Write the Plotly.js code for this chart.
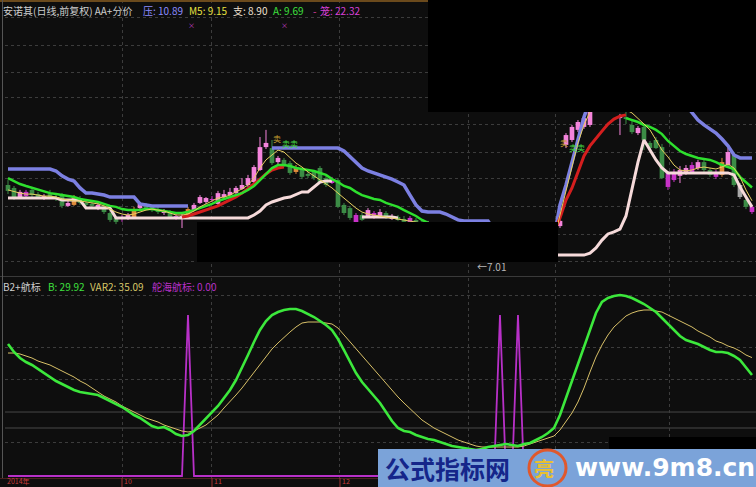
<!DOCTYPE html>
<html><head><meta charset="utf-8">
<script src="https://cdn.plot.ly/plotly-3.0.1.min.js"></script>
<style>html,body{margin:0;padding:0;background:#0e0e0e;}#chart{width:756px;height:487px;}</style>
</head><body><div id="chart"></div>
<script>
// ---------- price panel (candles) ----------
const open = [
 9.79,9.67,9.30,9.34,9.59,9.42,9.26,9.42,9.30,9.38,
 8.94,8.98,9.26,9.06,8.94,8.98,8.90,8.65,8.29,8.49,
 8.41,8.45,8.85,8.98,8.90,8.81,8.65,8.69,8.41,8.45,
 8.49,8.77,9.06,9.10,9.18,9.02,9.30,9.38,9.46,9.63,
 9.79,9.91,10.40,11.33,11.29,10.72,10.81,10.68,10.52,10.40,
 10.24,10.32,10.48,10.07,9.87,9.99,8.98,8.85,8.25,8.57,
 8.49,8.45,8.53,8.65,8.41,8.49,8.41,8.25,8.37,8.29,
 8.16,8.12,7.96,7.84,7.72,7.64,7.55,7.43,7.35,7.27,
 7.19,7.15,7.07,7.05,7.03,7.05,7.03,7.07,7.15,7.23,
 7.35,7.55,8.12,11.42,11.62,12.03,12.15,12.23,13.04,13.33,
 13.53,13.25,12.51,12.55,12.23,11.90,12.15,11.50,11.62,11.33,
 9.71,9.99,10.16,10.28,10.28,10.48,10.72,10.40,10.12,10.20,
 10.60,11.01,9.79,9.18,8.69];
const close = [
 9.55,9.26,9.51,9.51,9.38,9.30,9.34,9.30,9.26,8.94,
 9.06,9.30,9.06,8.98,9.02,8.85,8.69,8.37,8.45,8.41,
 8.57,8.81,9.02,8.85,8.77,8.69,8.73,8.49,8.53,8.53,
 8.81,8.98,9.30,9.26,9.22,9.46,9.42,9.51,9.67,9.79,
 10.07,10.52,11.33,11.50,10.68,10.89,10.60,10.28,10.32,10.12,
 10.16,10.07,9.91,9.79,10.03,8.90,8.65,8.45,8.57,8.37,
 8.77,8.65,8.69,8.45,8.53,8.37,8.29,8.45,8.25,8.20,
 8.25,7.96,7.84,7.72,7.64,7.55,7.43,7.35,7.27,7.19,
 7.15,7.07,7.05,7.03,7.07,7.03,7.07,7.15,7.23,7.35,
 7.55,7.88,8.33,11.82,12.15,12.35,12.51,13.04,13.45,13.65,
 13.25,12.92,12.59,12.47,11.94,12.11,11.62,11.29,11.29,10.07,
 10.28,10.32,10.40,10.48,10.60,10.72,10.40,10.20,10.32,10.72,
 11.13,9.79,9.30,8.90,8.90];
const high = [
 9.99,9.75,9.59,9.59,9.67,9.51,9.42,9.59,9.38,9.46,
 9.14,9.38,9.34,9.18,9.10,9.06,8.98,8.77,8.53,8.57,
 8.65,8.90,9.10,9.06,8.98,8.90,8.81,8.77,8.61,8.65,
 8.90,9.06,9.38,9.30,9.34,9.55,9.59,9.67,9.75,10.07,
 10.20,10.60,11.74,12.03,11.62,10.97,10.89,10.77,10.60,10.48,
 10.32,10.40,10.56,10.16,10.12,10.07,9.06,8.94,8.65,8.65,
 8.85,8.73,8.81,8.73,8.61,8.57,8.53,8.53,8.45,8.37,
 8.33,8.16,8.00,7.88,7.76,7.68,7.59,7.47,7.39,7.31,
 7.23,7.19,7.11,7.08,7.11,7.08,7.11,7.19,7.27,7.39,
 7.59,7.92,8.41,11.90,12.23,12.43,12.59,13.25,13.65,13.85,
 13.73,13.37,12.68,12.76,12.39,12.19,12.27,11.58,11.74,11.46,
 10.36,10.44,10.56,10.60,10.72,10.81,10.89,10.48,10.40,10.89,
 11.29,11.13,9.87,9.26,8.98];
const low = [
 9.42,9.18,9.22,9.26,9.30,9.22,9.18,9.22,9.14,8.85,
 8.90,8.94,8.98,8.85,8.85,8.77,8.61,8.29,8.20,8.29,
 8.37,8.41,8.81,8.77,8.69,8.61,8.57,8.45,8.37,8.04,
 8.45,8.73,9.02,9.02,9.10,8.98,9.26,9.34,9.42,9.59,
 9.71,9.87,10.36,11.25,10.60,10.64,10.52,10.20,10.24,10.03,
 10.07,9.99,9.87,9.71,9.83,8.85,8.57,8.37,8.20,8.33,
 8.45,8.41,8.49,8.41,8.37,8.33,8.25,8.20,8.20,8.12,
 8.08,7.92,7.80,7.68,7.59,7.51,7.39,7.31,7.23,7.15,
 7.11,7.03,7.02,7.01,7.02,7.02,7.02,7.03,7.11,7.19,
 7.31,7.51,8.04,11.29,11.54,11.94,12.07,12.15,12.92,13.25,
 13.12,12.84,11.82,12.27,11.86,11.82,11.21,11.21,11.25,10.03,
 9.59,9.91,9.87,10.20,10.24,10.40,10.32,10.12,10.03,10.12,
 10.52,9.71,9.22,8.81,8.61];
// candle colour class: p pink, g green, m magenta, o orange, s grey
const candleClass = (
 "ggpmggpggg" + "pogggpgggm" + "popgggpgmp" + "opppmppppp" +
 "ppppgpggog" + "ggggmgggmg" + "pmpgpggmgg" + "pggggggggg" +
 "ggggpgpppp" + "pppppppppp" + "ggpggpgggg" + "mmppmpggmo" + "pgsgm").split("");

// ---------- price panel lines ----------
const pressLine = [
 10.44,10.44,10.44,10.44,10.44,10.44,10.44,10.44,10.36,10.16,
 10.03,9.95,9.67,9.46,9.46,9.42,9.38,9.30,9.30,9.30,
 9.30,9.30,9.02,8.98,8.94,8.94,8.94,8.94,8.94,8.94,
 8.94,null,null,null,null,null,null,null,null,null,
 null,null,null,null,11.29,11.29,11.29,11.29,11.29,11.29,
 11.29,11.29,11.29,11.29,11.29,11.29,11.17,10.93,10.68,10.48,
 10.36,10.28,10.20,10.12,10.03,9.91,9.79,9.38,8.98,8.73,
 8.69,8.69,8.69,8.61,8.49,8.37,8.33,8.33,8.33,8.33,
 8.33,7.96,7.55,7.55,7.55,7.55,7.55,7.55,7.55,7.55,
 7.55,7.64,8.98,9.79,10.68,11.62,12.55,13.25,13.45,13.45,
 13.45,13.45,13.45,13.45,13.45,13.45,13.45,13.45,13.45,13.45,
 13.45,13.45,13.45,13.04,12.76,12.43,12.23,12.07,11.90,11.66,
 11.38,11.01,10.89,10.89,10.89];
const supportLine = [
 9.26,9.26,9.26,9.26,9.26,9.26,9.26,9.26,9.26,9.18,
 9.18,9.18,9.18,8.85,8.85,8.85,8.85,8.85,8.45,8.45,
 8.45,8.45,8.45,8.45,8.45,8.45,8.45,8.45,8.45,8.45,
 8.45,8.45,8.45,8.45,8.45,8.45,8.45,8.45,8.45,8.45,
 8.45,8.57,8.73,8.98,9.10,9.18,9.26,9.30,9.42,9.51,
 9.51,9.71,9.91,9.95,9.95,null,null,null,null,8.49,
 8.49,8.49,8.49,8.49,8.49,8.45,null,null,null,null,
 null,6.94,6.94,6.94,6.94,6.94,6.94,6.94,6.94,6.94,
 6.94,6.94,6.94,6.94,6.94,6.94,6.94,6.94,6.94,6.94,
 6.94,6.94,6.94,6.94,6.94,6.94,6.94,7.02,7.23,7.55,
 7.80,7.88,8.00,8.53,9.59,10.72,11.62,11.21,10.81,10.48,
 10.28,10.28,10.28,10.28,10.28,10.28,10.28,10.28,10.28,10.28,
 10.28,10.20,9.71,9.30,8.90];
const redLine = [
 null,null,null,null,null,null,null,null,null,null,
 null,null,null,null,null,null,null,null,null,null,
 null,null,null,null,null,null,null,null,null,8.49,
 8.53,8.61,8.69,8.77,8.85,8.94,9.06,9.18,9.30,9.46,
 9.63,9.83,10.03,10.24,10.40,10.48,10.52,null,null,null,
 null,null,null,null,null,null,null,null,null,null,
 null,null,null,null,null,null,null,null,null,null,
 null,null,null,null,null,null,null,null,null,null,
 null,null,null,null,null,null,null,null,null,null,
 null,7.88,8.45,9.18,9.67,10.32,10.97,11.38,11.70,11.98,
 12.27,12.47,12.59,12.64,null,null,null,null,null,null,
 null,null,null,null,null,null,null,null,null,null,
 null,null,null,null,null];
const aLine = [
 10.07,9.95,9.83,9.75,9.67,9.59,9.51,9.46,9.42,9.38,
 9.34,9.30,9.22,9.18,9.14,9.10,9.02,8.94,8.90,8.81,
 8.77,8.77,8.77,8.81,8.81,8.77,8.73,8.69,8.65,8.65,
 8.69,8.77,8.85,8.94,9.02,9.14,9.22,9.30,9.38,9.46,
 9.59,9.75,9.99,10.24,10.48,10.60,10.60,10.56,10.48,10.44,
 10.40,10.36,10.28,10.20,10.03,9.91,9.75,9.67,9.51,9.38,
 9.30,9.22,9.18,9.06,8.98,8.90,8.77,8.65,8.53,8.37,
 8.25,8.12,8.00,7.88,7.76,7.64,7.55,7.47,7.39,7.31,
 7.23,7.19,7.15,7.11,7.11,7.11,7.11,7.15,7.19,7.23,
 7.27,7.35,null,null,null,null,null,null,null,null,
 null,null,null,12.51,12.43,12.35,12.23,12.15,12.03,11.86,
 11.58,11.38,11.17,11.05,10.97,10.89,10.85,10.81,10.72,10.60,
 10.52,10.44,10.12,9.90,9.69];
const m5Line = [
 9.59,9.51,9.46,9.42,9.42,9.38,9.34,9.34,9.30,9.22,
 9.18,9.14,9.14,9.10,9.06,9.02,8.94,8.81,8.69,8.61,
 8.57,8.61,8.69,8.77,8.81,8.77,8.73,8.65,8.57,8.57,
 8.61,8.73,8.90,9.02,9.14,9.26,9.30,9.38,9.51,9.63,
 9.79,10.07,10.48,10.81,11.01,11.21,11.13,10.89,10.68,10.52,
 10.32,10.16,9.99,9.83,9.67,9.46,9.26,9.06,8.85,8.69,
 8.61,8.57,8.53,8.49,8.45,8.41,8.37,8.33,8.29,8.25,
 8.20,8.04,7.92,7.80,7.68,7.55,7.47,7.39,7.31,7.23,
 7.19,7.15,7.11,7.07,7.05,7.05,7.05,7.07,7.15,7.23,
 7.35,7.55,8.57,9.59,10.60,11.50,12.23,12.76,13.04,13.25,
 13.25,13.12,12.92,12.84,12.72,12.51,12.27,12.03,11.62,11.21,
 10.93,10.60,10.40,10.36,10.40,10.48,10.52,10.48,10.44,10.52,
 10.64,10.48,10.12,9.59,9.15];

// ---------- indicator panel ----------
const bLine = [
 39.11,36.74,34.96,33.78,32.89,31.70,30.52,29.33,28.15,27.26,
 26.37,25.48,24.89,24.59,24.30,24.00,23.11,22.22,21.33,20.44,
 19.26,18.07,17.19,16.00,14.81,14.22,14.52,13.63,12.44,11.85,
 12.15,13.33,15.11,16.89,18.96,20.74,23.11,25.48,28.44,32.00,
 35.85,39.70,43.26,45.93,47.70,48.59,49.19,49.48,49.48,48.89,
 48.00,47.11,45.93,44.74,43.26,40.59,37.33,33.78,30.52,27.85,
 25.78,23.70,21.63,18.96,16.30,14.22,13.33,13.04,12.15,11.56,
 10.96,10.67,10.07,9.48,8.89,8.59,8.30,8.00,7.70,8.00,
 8.59,8.89,9.19,9.48,9.19,8.89,9.48,9.78,10.67,11.56,
 12.74,14.22,18.07,23.11,27.85,32.89,37.93,43.26,48.30,51.56,
 52.74,53.33,53.63,53.33,52.74,51.85,50.96,49.78,48.59,46.81,
 45.04,42.96,41.48,40.30,39.70,39.11,38.22,37.33,36.74,36.74,
 36.44,35.56,34.37,32.30,29.92];
const var2Line = [
 36.44,36.44,36.15,35.56,34.96,34.07,33.48,32.89,32.00,31.11,
 30.22,29.33,28.15,27.26,26.07,24.89,23.70,22.81,21.93,20.74,
 19.85,18.96,18.07,17.19,16.59,16.00,15.11,14.52,13.93,13.33,
 13.04,13.33,14.22,15.11,16.59,18.07,20.15,21.93,24.00,26.07,
 28.44,30.81,33.19,35.56,37.63,39.41,41.19,42.67,44.15,45.33,
 45.63,45.63,45.63,45.33,45.04,43.85,41.78,39.70,37.63,35.85,
 33.78,31.70,29.63,27.56,25.48,23.41,21.63,19.85,18.07,16.59,
 15.41,14.22,13.33,12.44,11.56,10.67,10.07,9.48,8.89,8.59,
 8.59,8.59,8.59,8.59,8.59,8.59,8.89,9.48,10.07,10.67,
 11.26,11.85,13.63,16.00,18.67,21.93,26.07,30.81,35.26,38.82,
 41.78,44.15,45.93,47.41,48.30,48.89,49.19,49.19,48.89,48.59,
 47.70,46.81,45.93,45.04,44.15,42.96,42.07,41.19,40.00,39.41,
 38.52,37.93,37.04,35.85,35.09];
const shipLine = [
 0,0,0,0,0,0,0,0,0,0, 0,0,0,0,0,0,0,0,0,0,
 0,0,0,0,0,0,0,0,0,0, 47.7,0,0,0,0,0,0,0,0,0,
 0,0,0,0,0,0,0,0,0,0, 0,0,0,0,0,0,0,0,0,0,
 0,0,0,0,0,0,0,0,0,0, 0,0,0,0,0,0,0,0,0,0,
 0,0,47.7,0,0,47.7,0,0,0,0, 0,0,0,0,0,0,0,0,0,0,
 0,0,0,0,0,0,0,0,0,0, 0,0,0,0,0,0,0,0,0,0,
 0,0,0,0,0];

const priceGrid = [16.58,15.48,14.38,13.33,12.23,11.13,10.07,8.90,7.76,6.66];
const indGrid = [53.63,38.22,28.74,9.78];
const monthGrid = [19,34,55.33,76.67,91.17,110.17];
const dateLabels = ["2014年","10","11","12"];

// ---------- build ----------
const N = open.length;
const xs = open.map((_, i) => i);
const classColor = {p:'#f584dc', g:'#3c8c46', m:'#c832c8', o:'#e08c3c', s:'#a8a8a8'};
const traces = [];
const line = (y, color, width, yaxis) => ({type:'scatter', mode:'lines', x:xs, y:y, yaxis:yaxis||'y',
  line:{color:color, width:width}, hoverinfo:'skip', connectgaps:false});

for (const c of Object.keys(classColor)) {
  const wx = [], wy = [];
  for (let i = 0; i < N; i++) if (candleClass[i] === c) { wx.push(i, i, null); wy.push(low[i], high[i], null); }
  traces.push({type:'scatter', mode:'lines', x:wx, y:wy, line:{color:classColor[c], width:1}, hoverinfo:'skip'});
}
traces.push({type:'bar', x:xs, y:open.map((o,i)=>Math.max(Math.abs(close[i]-o),0.04)),
  base:open.map((o,i)=>Math.min(o,close[i])), width:0.78,
  marker:{color:candleClass.map(c=>classColor[c]), line:{width:0}}, hoverinfo:'skip'});

traces.push(line(pressLine, '#7c80e2', 3.5));
traces.push(line(supportLine, '#f6dada', 3));
traces.push(line(redLine, '#d41e1e', 3));
traces.push(line(aLine, '#2ee02e', 2.5));
traces.push(line(m5Line, '#e8d060', 1));

traces.push(line(shipLine, '#b830c8', 1.8, 'y2'));
traces.push(line(var2Line, '#d8c068', 1, 'y2'));
traces.push(line(bLine, '#3ce83c', 2.6, 'y2'));

const PX = x => (x - 5) / 751;
const PY = y => 1 - y / 487;
const ann = (x, y, text, color, size, extra) => Object.assign({xref:'paper', yref:'paper', x:PX(x), y:PY(y),
  xanchor:'left', yanchor:'middle', showarrow:false, text:text, borderpad:0,
  font:{family:'Noto Sans CJK SC, DejaVu Sans, sans-serif', size:size||11, color:color}}, extra||{});

const annotations = [
  ann(2, 11, '安诺其(日线,前复权) AA+分价', '#cfcfcf', 10),
  ann(142, 11, '压: 10.89', '#8c8cff', 10),
  ann(188, 11, 'M5: 9.15', '#e6e040', 10),
  ann(232, 11, '支: 8.90', '#eee0d0', 10),
  ann(272, 11, 'A: 9.69', '#3ee03e', 10),
  ann(312, 11, '-', '#e040a0', 10),
  ann(319, 11, '笼: 22.32', '#d840d8', 10),
  ann(187, 25, '×', '#d040d0', 7),
  ann(280, 25, '×', '#d040d0', 7),
  ann(272, 138, '卖', '#c8a030', 8),
  ann(281, 144, '卖卖', '#44dd44', 8),
  ann(559, 142, '卖', '#c8a030', 8),
  ann(568, 147, '卖卖', '#44dd44', 8),
  ann(2, 286, 'B2+航标', '#cfcfcf', 10),
  ann(47, 286, 'B: 29.92', '#3ee03e', 10),
  ann(89, 286, 'VAR2: 35.09', '#d8c868', 10),
  ann(151, 286, '舵海航标: 0.00', '#b830c8', 10),
  ann(476, 266, '←7.01', '#b8b8b8', 10),
  ann(6, 481, dateLabels[0], '#c83c3c', 7),
  ann(123, 481, dateLabels[1], '#c83c3c', 7),
  ann(213, 481, dateLabels[2], '#c83c3c', 7),
  ann(341, 481, dateLabels[3], '#c83c3c', 7),
  ann(384, 468, '<b>公式指标网</b>', '#15268a', 25),
  ann(533, 468, '<b>亮</b>', '#e8c030', 20),
  ann(574, 467, '<b>www.9m8.cn</b>', '#ffffff', 25, {font:{family:'DejaVu Sans, sans-serif', size:25, color:'#ffffff'}})
];

const rect = (x0,y0,x1,y1,color) => ({type:'rect', xref:'paper', yref:'paper', x0:PX(x0), x1:PX(x1), y0:PY(y1), y1:PY(y0),
  fillcolor:color, line:{width:0}, layer:'above'});
const hl = (x0,x1,y,color,w) => ({type:'line', xref:'paper', yref:'paper', x0:PX(x0), x1:PX(x1), y0:PY(y), y1:PY(y),
  line:{color:color, width:w||1}, layer:'above'});
const vl = (x,y0,y1,color,w) => ({type:'line', xref:'paper', yref:'paper', x0:PX(x), x1:PX(x), y0:PY(y0), y1:PY(y1),
  line:{color:color, width:w||1}, layer:'above'});

const shapes = [
  {type:'line', xref:'paper', yref:'y2', x0:0, x1:1, y0:18.96, y1:18.96, line:{color:'#484848', width:1}, layer:'below'},
  {type:'line', xref:'paper', yref:'y2', x0:0, x1:1, y0:14.22, y1:14.22, line:{color:'#484848', width:1}, layer:'below'},
  hl(0, 756, 276.5, '#3a3a3a', 1),
  hl(0, 428, 1, '#6b4a1c', 2),
  vl(2.5, 0, 478, '#555555', 1),
  hl(0, 756, 478.5, '#4a2020', 1),
  vl(122, 478, 487, '#a03030', 1),
  vl(212, 478, 487, '#a03030', 1),
  vl(340, 478, 487, '#a03030', 1),
  rect(428, 0, 756, 112, '#000000'),
  rect(197, 222, 558, 262, '#000000'),
  rect(609, 437, 756, 449, '#000000'),
  rect(378, 449, 756, 487, '#7ba3d9'),
  {type:'circle', xref:'paper', yref:'paper', x0:PX(529), x1:PX(566), y0:PY(486), y1:PY(450),
    line:{color:'#e0582c', width:3}, fillcolor:'rgba(0,0,0,0)', layer:'above'}
];

const gridAxis = {showgrid:true, gridcolor:'#3c3c3c', griddash:'dot', gridwidth:1, zeroline:false,
  showticklabels:false, ticks:'', showline:false};

const layout = {
  width:756, height:487, margin:{l:5, r:0, t:0, b:0},
  paper_bgcolor:'#0e0e0e', plot_bgcolor:'#0e0e0e',
  showlegend:false, barmode:'overlay', hovermode:false,
  xaxis:Object.assign({}, gridAxis, {range:[-0.5,124.67], tickvals:monthGrid}),
  yaxis:Object.assign({}, gridAxis, {domain:[0.43532,1], range:[6.131,17.31], tickvals:priceGrid}),
  yaxis2:Object.assign({}, gridAxis, {domain:[0.01437,0.42916], range:[-1.185,58.67], tickvals:indGrid}),
  annotations:annotations, shapes:shapes
};

Plotly.newPlot('chart', traces, layout, {staticPlot:true, displayModeBar:false});
</script>
</body></html>
